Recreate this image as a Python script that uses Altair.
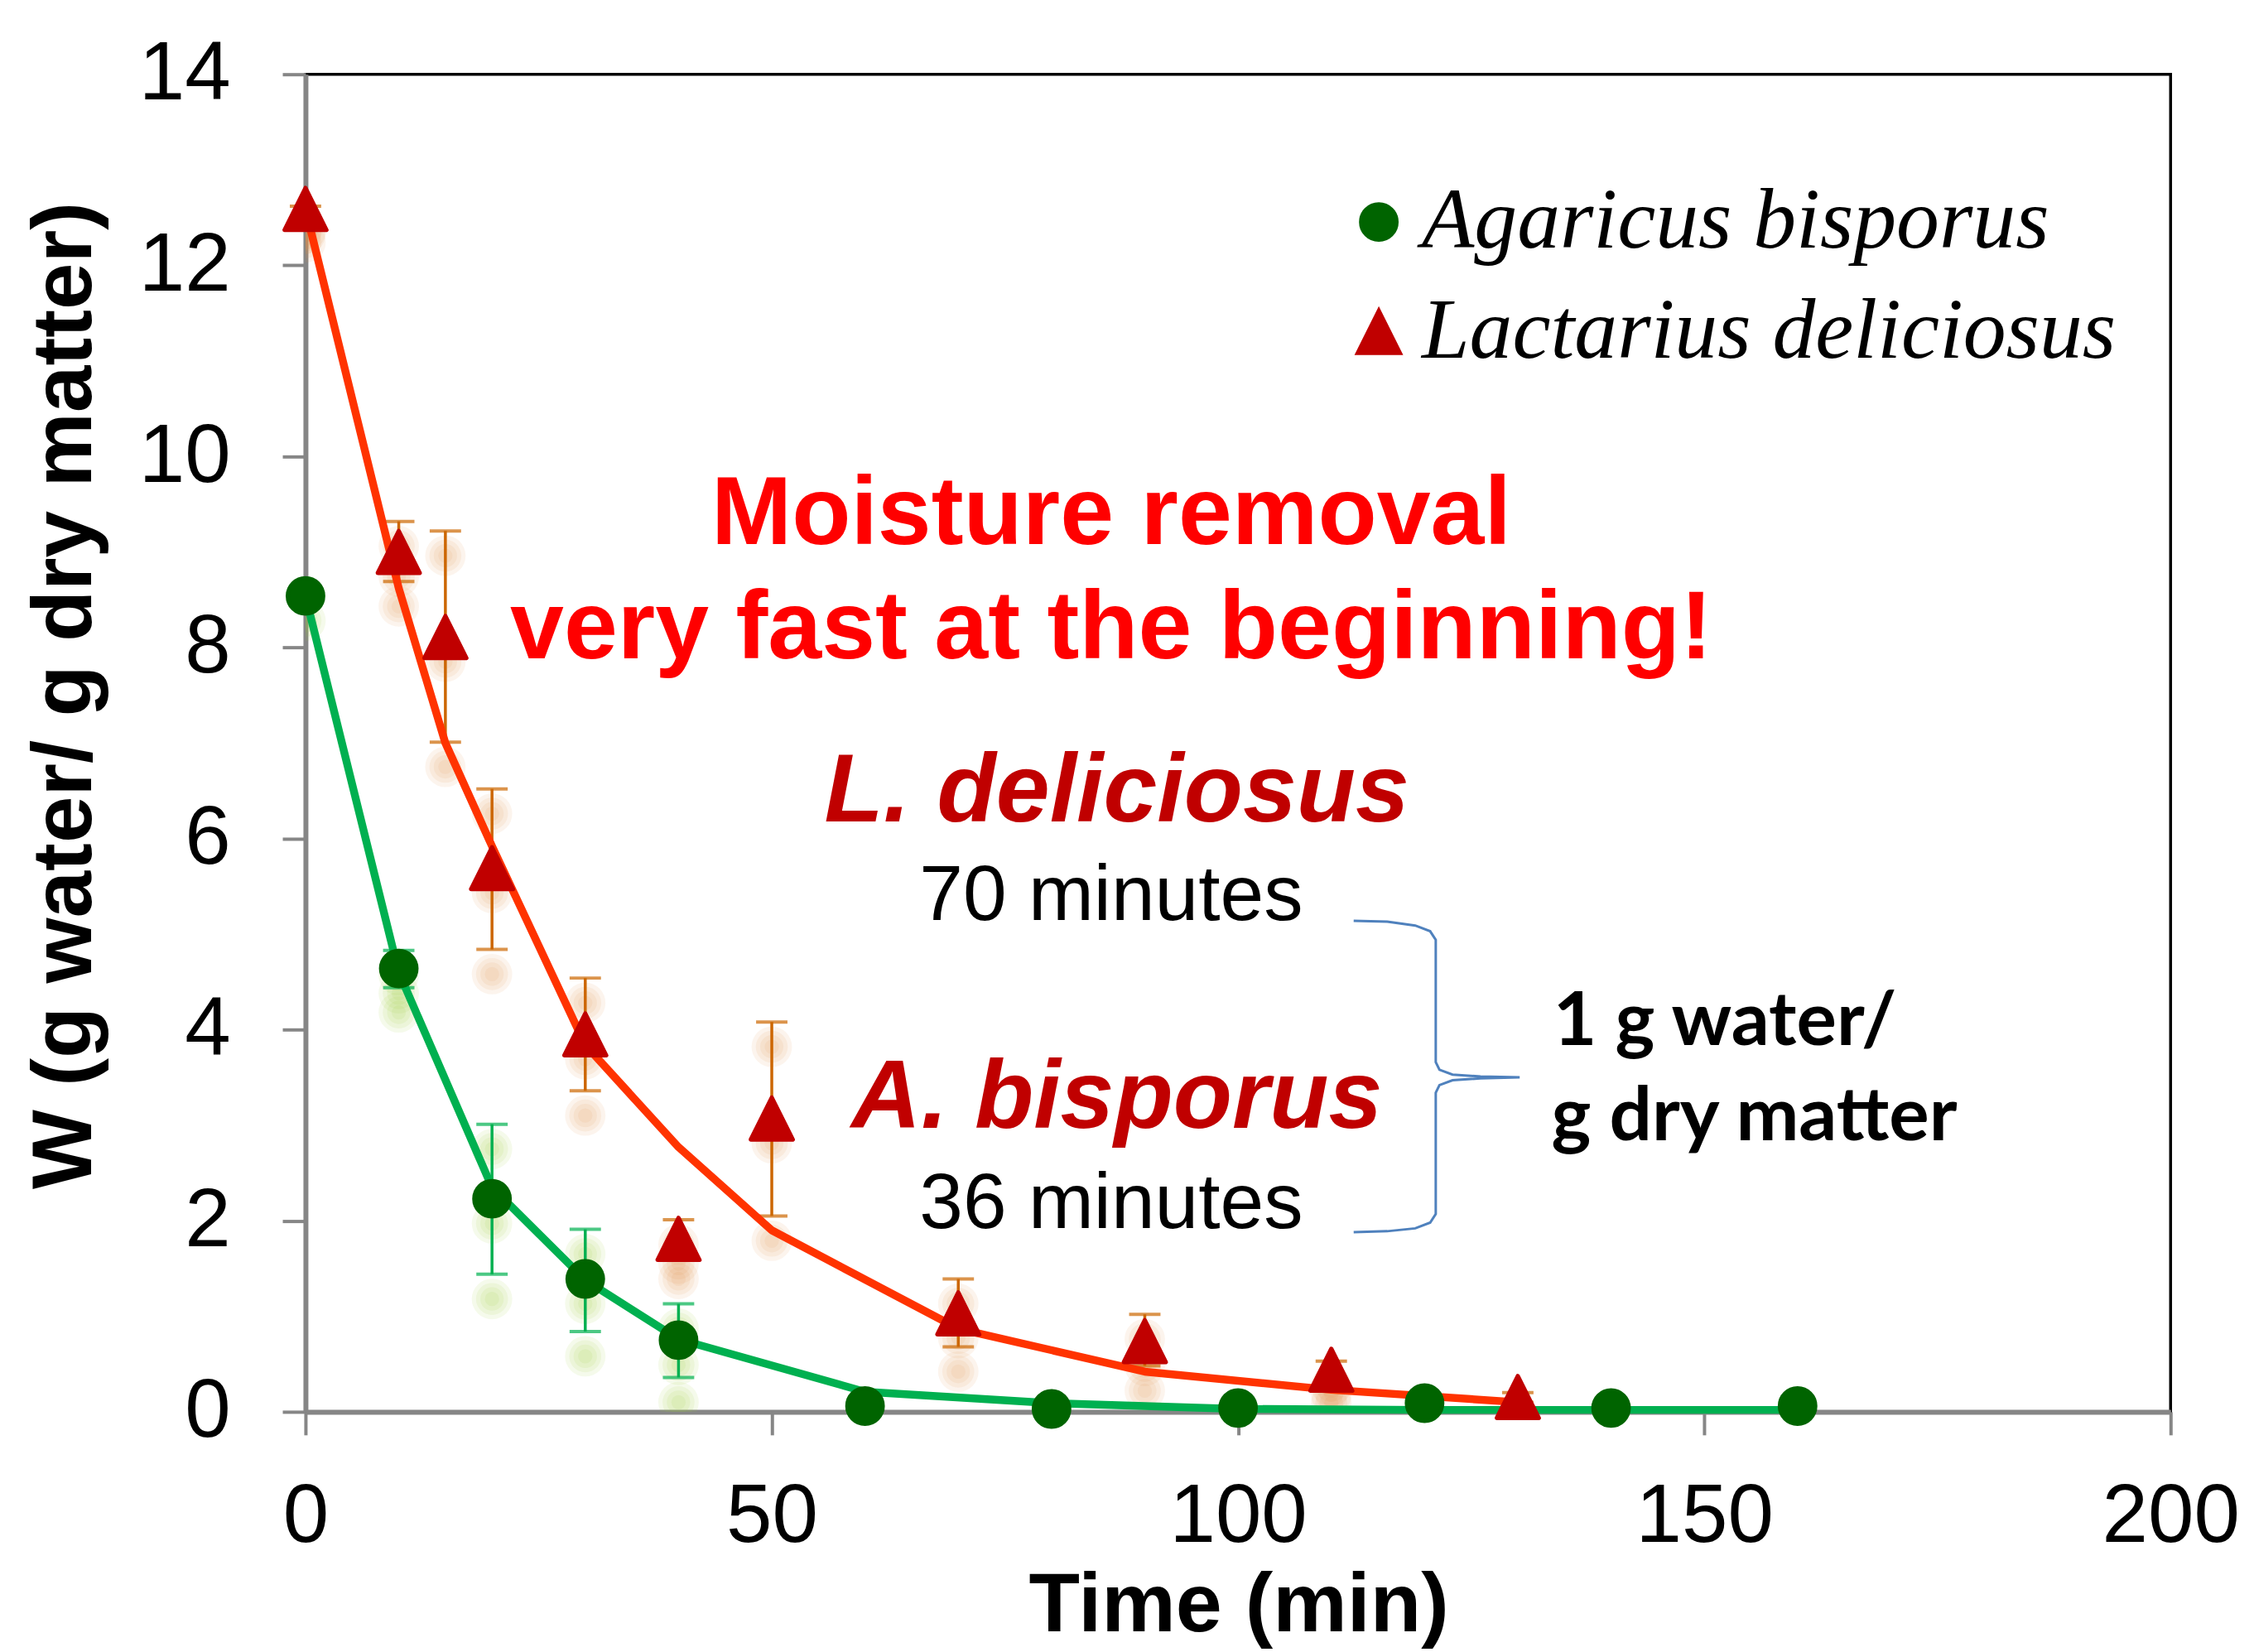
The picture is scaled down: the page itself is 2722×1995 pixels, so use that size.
import altair as alt
import pandas as pd

# ---------------- data ----------------
species = ["Agaricus bisporus", "Lactarius deliciosus"]

ab_time = [0, 10, 20, 30, 40, 60, 80, 100, 120, 140, 160]
ab_w    = [8.54, 4.64, 2.23, 1.39, 0.75, 0.06, 0.03, 0.04, 0.09, 0.04, 0.06]
ab_fit  = [8.54, 4.60, 2.35, 1.38, 0.76, 0.21, 0.09, 0.03, 0.02, 0.02, 0.02]
ab_lo   = [8.54, 4.44, 1.44, 0.84, 0.36, 0.06, 0.03, 0.04, 0.09, 0.04, 0.06]
ab_hi   = [8.54, 4.83, 3.01, 1.91, 1.13, 0.06, 0.03, 0.04, 0.09, 0.04, 0.06]

ld_time = [0, 10, 15, 20, 30, 40, 50, 70, 90, 110, 130]
ld_w    = [12.59, 9.00, 8.11, 5.69, 3.95, 1.81, 3.07, 1.03, 0.74, 0.44, 0.155]
ld_fit  = [12.59, 8.62, 7.00, 5.92, 3.84, 2.77, 1.90, 0.87, 0.42, 0.23, 0.10]
ld_lo   = [12.50, 8.69, 7.01, 4.84, 3.36, 1.65, 2.05, 0.68, 0.48, 0.35, 0.10]
ld_hi   = [12.62, 9.32, 9.22, 6.52, 4.54, 2.01, 4.08, 1.39, 1.02, 0.53, 0.20]

x_ticks = [0, 50, 100, 150, 200]
y_ticks = [0, 2, 4, 6, 8, 10, 12, 14]

# annotations (data coordinates)
head_text = ["Moisture removal", "very fast at the beginning!"]
head_x = [86.4, 86.4]
head_y = [9.08, 7.89]

name_text = ["L. deliciosus", "A. bisporus"]
name_x = [87.0, 87.0]
name_y = [6.18, 2.97]

min_text = ["70 minutes", "36 minutes"]
min_x = [86.4, 86.4]
min_y = [5.15, 1.92]

unit_text = ["1 g water/", "g dry matter"]
unit_x = [133.8, 133.6]
unit_y = [3.84, 2.84]

brace_x = [112.4, 116.0, 119.0, 120.6, 121.2, 121.2, 121.6, 123.0, 126.0, 130.2,
           126.0, 123.0, 121.6, 121.2, 121.2, 120.6, 119.0, 116.0, 112.4]
brace_y = [5.14, 5.13, 5.09, 5.03, 4.94, 3.66, 3.58, 3.53, 3.51, 3.50,
           3.49, 3.47, 3.42, 3.34, 2.07, 1.98, 1.92, 1.89, 1.88]

# ---------------- styling ----------------
GREEN_MK, GREEN_LN = "#006400", "#00B050"
RED_MK, RED_LN, RED_ERR = "#C00000", "#FF3300", "#CC6600"
AXIS_GRAY = "#868686"
TRI = "M0,-1L1,1L-1,1Z"

x_axis = alt.Axis(values=x_ticks, grid=False, title="Time (min)", labelFlush=False,
                  labelFont="Liberation Sans", labelFontSize=100, labelColor="black",
                  labelPadding=50, tickSize=28, tickWidth=4, tickColor=AXIS_GRAY,
                  domainColor=AXIS_GRAY, domainWidth=6,
                  titleFont="Liberation Sans", titleFontSize=101, titleFontWeight="bold",
                  titleColor="black", titleX=1130, titleY=265, titleAlign="center",
                  titleBaseline="alphabetic")
y_axis = alt.Axis(values=y_ticks, grid=False, title="W (g water/ g dry matter)", labelFlush=False,
                  labelFont="Liberation Sans", labelFontSize=100, labelColor="black",
                  labelPadding=63, tickSize=28, tickWidth=4, tickColor=AXIS_GRAY,
                  domainColor=AXIS_GRAY, domainWidth=6,
                  titleFont="Liberation Sans", titleFontSize=102, titleFontWeight="bold",
                  titleColor="black", titleAngle=270, titleX=-260, titleY=752,
                  titleAlign="center", titleBaseline="alphabetic")


def X(f):
    return alt.X(f"{f}:Q", scale=alt.Scale(domain=[0, 200], nice=False, zero=False), axis=x_axis)


def Y(f):
    return alt.Y(f"{f}:Q", scale=alt.Scale(domain=[0, 14], nice=False), axis=y_axis)


layers = []

series = [
    (ab_time, ab_w, ab_fit, ab_lo, ab_hi, GREEN_LN, GREEN_LN, "#9CCB3C"),
    (ld_time, ld_w, ld_fit, ld_lo, ld_hi, RED_LN, RED_ERR, "#E0904A"),
]

# soft shadows (glow) under markers and error-bar caps
for t, w, fit, lo, hi, lc, ec, gc in series:
    gt, gw = [], []
    for i in range(len(t)):
        gt.append(t[i]); gw.append(w[i])
        if hi[i] - lo[i] > 0.1:
            gt += [t[i], t[i]]; gw += [lo[i], hi[i]]
    gdf = pd.DataFrame({"t": gt, "w": gw})
    for sz in [300, 800, 1500, 2400]:
        layers.append(alt.Chart(gdf).mark_circle(color=gc, opacity=0.1, size=sz,
                                                 yOffset=30, clip=True)
                      .encode(x=X("t"), y=Y("w")))

# error bars
for t, w, fit, lo, hi, lc, ec, gc in series:
    edf = pd.DataFrame({"t": t, "lo": lo, "hi": hi})
    layers.append(alt.Chart(edf).mark_rule(color=ec, strokeWidth=3.5)
                  .encode(x=X("t"), y=Y("lo"), y2=alt.Y2("hi:Q")))
    cap_df = pd.DataFrame({"t": t + t, "v": lo + hi})
    layers.append(alt.Chart(cap_df).mark_tick(color=ec, orient="horizontal", size=38, thickness=4)
                  .encode(x=X("t"), y=Y("v")))

# fitted lines
for t, w, fit, lo, hi, lc, ec, gc in series:
    ldf = pd.DataFrame({"t": t, "fit": fit})
    layers.append(alt.Chart(ldf).mark_line(color=lc, strokeWidth=9.5, strokeJoin="round")
                  .encode(x=X("t"), y=Y("fit")))

# markers + legend
pts = pd.DataFrame({
    "t": ab_time + ld_time,
    "w": ab_w + ld_w,
    "species": [species[0]] * len(ab_time) + [species[1]] * len(ld_time),
})
leg = alt.Legend(orient="none", legendX=1248, legendY=127, title=None,
                 labelFont="Liberation Serif", labelFontStyle="italic", labelFontSize=104,
                 labelColor="black", labelOffset=0, rowPadding=29, padding=0,
                 labelLimit=0, symbolStrokeWidth=5)
layers.append(alt.Chart(pts).mark_point(filled=True, opacity=1, strokeWidth=5,
                                        strokeJoin="round", strokeOpacity=1)
              .encode(x=X("t"), y=Y("w"),
                      color=alt.Color("species:N", scale=alt.Scale(domain=species, range=[GREEN_MK, RED_MK]), legend=leg),
                      stroke=alt.Stroke("species:N", scale=alt.Scale(domain=species, range=[GREEN_MK, RED_MK]), legend=leg),
                      shape=alt.Shape("species:N", scale=alt.Scale(domain=species, range=["circle", TRI]), legend=leg),
                      size=alt.Size("species:N", scale=alt.Scale(domain=species, range=[1849, 2601]), legend=leg)))

# annotations
def text_layer(txt, xs, ys, **kw):
    df = pd.DataFrame({"label": txt, "tx": xs, "ty": ys})
    return alt.Chart(df).mark_text(baseline="alphabetic", **kw).encode(
        x=X("tx"), y=Y("ty"), text="label:N")

layers.append(text_layer(head_text, head_x, head_y, font="Liberation Sans", fontSize=117,
                         fontWeight="bold", color="#FF0000", align="center"))
layers.append(text_layer(name_text, name_x, name_y, font="Liberation Sans", fontSize=117,
                         fontWeight="bold", fontStyle="italic", color=RED_MK, align="center"))
layers.append(text_layer(min_text, min_x, min_y, font="Liberation Sans", fontSize=95,
                         color="black", align="center"))
layers.append(text_layer(unit_text, unit_x, unit_y, font="Lato", fontSize=91,
                         fontWeight="bold", color="black", align="left"))

bdf = pd.DataFrame({"bx": brace_x, "by": brace_y, "i": list(range(len(brace_x)))})
layers.append(alt.Chart(bdf).mark_line(color="#4F81BD", strokeWidth=3)
              .encode(x=X("bx"), y=Y("by"), order="i:Q"))

chart = alt.layer(*layers).properties(
    width=2259, height=1620,
    padding={"left": 362, "top": 79, "right": 93, "bottom": 288},
    autosize=alt.AutoSizeParams(type="none"),
    background="white",
).configure_view(stroke="#000000", strokeWidth=3.5, strokeOpacity=1)

chart.save("out.html", embed_options={"renderer": "svg", "actions": False})
